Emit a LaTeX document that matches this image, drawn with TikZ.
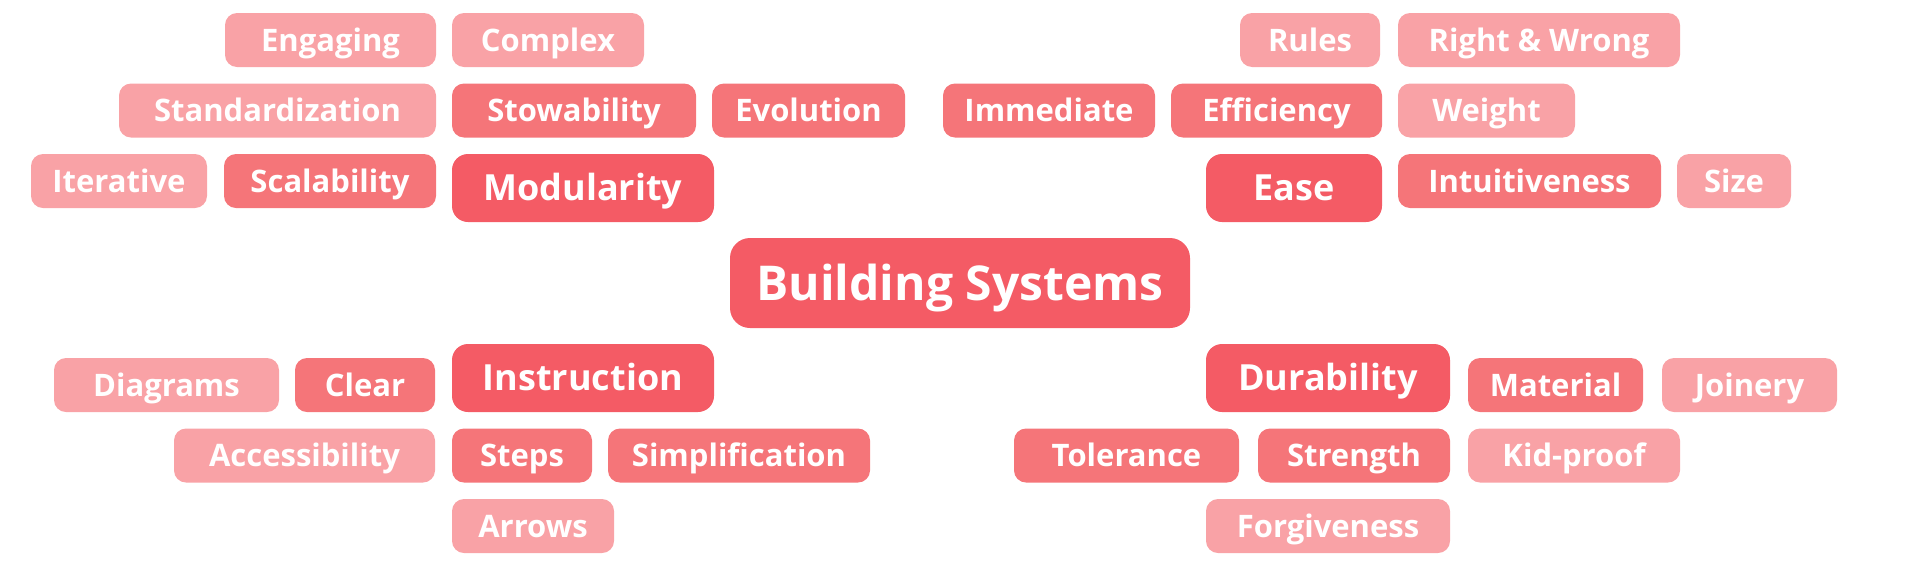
\documentclass[tikz,border=0pt]{standalone}
\usepackage{fontspec}
\setmainfont{Open Sans}
\usepackage{xcolor}
\usepackage{tikz}
\usetikzlibrary{positioning}
\definecolor{mainRed}{RGB}{244,91,101}
\definecolor{midRed}{RGB}{245,117,121}
\definecolor{lightRed}{RGB}{249,162,166}
\tikzset{
  tagbox/.style={rounded corners=12pt, inner sep=0pt, outer sep=0pt, text=white,
    font=\bfseries\fontsize{31}{34}\selectfont, text height=22.1pt, text depth=0pt,
    minimum height=54pt},
  leaf/.style={tagbox, fill=lightRed},
  twig/.style={tagbox, fill=midRed},
  branch/.style={tagbox, fill=mainRed, rounded corners=16pt, minimum height=68pt,
    font=\bfseries\fontsize{36}{40}\selectfont, text height=25.7pt},
  rootbox/.style={tagbox, fill=mainRed, rounded corners=20pt, minimum height=90pt,
    font=\bfseries\fontsize{48}{52}\selectfont, text height=34.3pt}
}
\begin{document}
\begin{tikzpicture}[x=1pt,y=-1pt]
\useasboundingbox (0,0) rectangle (1920,574);
% centre
\node[rootbox, minimum width=460pt] (root) at (960,283) {Building Systems};
% modularity
\node[branch, minimum width=262pt] (modularity) at (583,188) {Modularity};
\node[leaf, minimum width=211pt] (engaging) at (330.5,40) {Engaging};
\node[leaf, minimum width=192pt] (complex) at (548,40) {Complex};
\node[leaf, minimum width=317pt] (standard) at (277.5,110.5) {Standardization};
\node[twig, minimum width=244pt] (stowability) at (574,110.5) {Stowability};
\node[twig, minimum width=193pt] (evolution) at (808.5,110.5) {Evolution};
\node[leaf, minimum width=176pt] (iterative) at (119,181) {Iterative};
\node[twig, minimum width=212pt] (scalability) at (330,181) {Scalability};
% ease
\node[branch, minimum width=176pt] (ease) at (1294,188) {Ease};
\node[leaf, minimum width=140pt] (rules) at (1310,40) {Rules};
\node[leaf, minimum width=282pt] (rightwrong) at (1539,40) {Right \& Wrong};
\node[twig, minimum width=212pt] (immediate) at (1049,110.5) {Immediate};
\node[twig, minimum width=211pt] (efficiency) at (1276.5,110.5) {Efficiency};
\node[leaf, minimum width=177pt] (weight) at (1486.5,110.5) {Weight};
\node[twig, minimum width=263pt] (intuitive) at (1529.5,181) {Intuitiveness};
\node[leaf, minimum width=114pt] (size) at (1734,181) {Size};
% instruction
\node[branch, minimum width=262pt] (instruction) at (583,378) {Instruction};
\node[leaf, minimum width=225pt] (diagrams) at (166.5,385) {Diagrams};
\node[twig, minimum width=140pt] (clear) at (365,385) {Clear};
\node[leaf, minimum width=261pt] (access) at (304.5,455.5) {Accessibility};
\node[twig, minimum width=140pt] (steps) at (522,455.5) {Steps};
\node[twig, minimum width=262pt] (simplify) at (739,455.5) {Simplification};
\node[leaf, minimum width=162pt] (arrows) at (533,526) {Arrows};
% durability
\node[branch, minimum width=244pt] (durability) at (1328,378) {Durability};
\node[twig, minimum width=175pt] (material) at (1555.5,385) {Material};
\node[leaf, minimum width=175pt] (joinery) at (1749.5,385) {Joinery};
\node[twig, minimum width=225pt] (tolerance) at (1126.5,455.5) {Tolerance};
\node[twig, minimum width=192pt] (strength) at (1354,455.5) {Strength};
\node[leaf, minimum width=212pt] (kidproof) at (1574,455.5) {Kid-proof};
\node[leaf, minimum width=244pt] (forgive) at (1328,526) {Forgiveness};
\end{tikzpicture}
\end{document}
